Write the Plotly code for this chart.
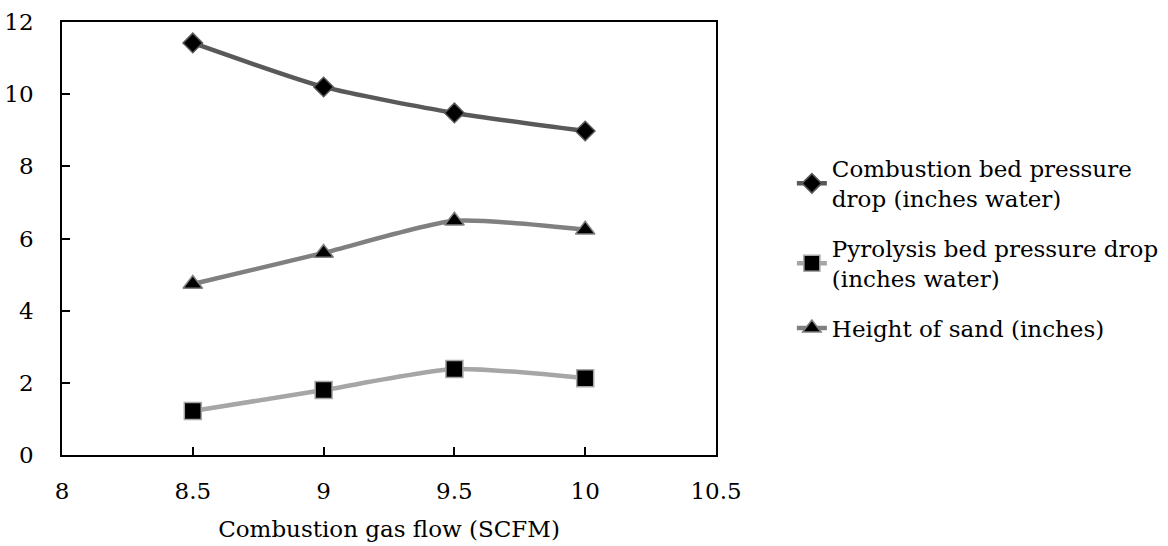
import plotly.graph_objects as go

x_flow = [8.5, 9, 9.5, 10]
combustion_dp = [11.42, 10.2, 9.48, 8.98]
pyrolysis_dp = [1.22, 1.8, 2.38, 2.13]
sand_height = [4.74, 5.6, 6.49, 6.24]

names = ["Combustion bed pressure<br>drop (inches water)",
         "Pyrolysis bed pressure drop<br>(inches water)",
         "Height of sand (inches)"]
x_ticks = [8, 8.5, 9, 9.5, 10, 10.5]
y_ticks = [0, 2, 4, 6, 8, 10, 12]

FONT = "DejaVu Serif"
FS = 23

fig = go.Figure()
series = [
    (combustion_dp, names[0], "#595959", "diamond", 15, "g1"),
    (pyrolysis_dp, names[1], "#a6a6a6", "square", 17, "g2"),
    (sand_height, names[2], "#808080", "triangle-up", 17, "g3"),
]
for y, n, c, sym, sz, g in series:
    fig.add_trace(go.Scatter(
        x=x_flow, y=y, name=n, mode="lines+markers", legendgroup=g,
        line=dict(color=c, width=4.5, shape="spline", smoothing=0.6),
        marker=dict(symbol=sym, size=sz, color="black", line=dict(color=c, width=1.5)),
    ))

axis_common = dict(showline=True, linecolor="black", linewidth=1.5, mirror=True,
                   ticks="inside", ticklen=8, tickwidth=1.5, tickcolor="black",
                   showgrid=False, zeroline=False, automargin=False,
                   tickfont=dict(family=FONT, size=FS, color="black"))

fig.update_layout(
    width=1168, height=546,
    margin=dict(l=62, r=452, t=22, b=91, autoexpand=False),
    paper_bgcolor="white", plot_bgcolor="white",
    font=dict(family=FONT, size=FS, color="black"),
    xaxis=dict(range=[8, 10.5], tickvals=x_ticks, ticktext=[str(v) for v in x_ticks],
               ticklabelstandoff=15,
               title=dict(text="Combustion gas flow (SCFM)", font=dict(family=FONT, size=FS), standoff=18),
               **axis_common),
    yaxis=dict(range=[0, 12], tickvals=y_ticks, ticklabelstandoff=22, **axis_common),
    legend=dict(x=1.116, y=0.477, yanchor="middle", xanchor="left",
                font=dict(family=FONT, size=FS, color="black"),
                tracegroupgap=17, bgcolor="rgba(0,0,0,0)"),
    showlegend=True,
)

fig.write_html("out.html")
